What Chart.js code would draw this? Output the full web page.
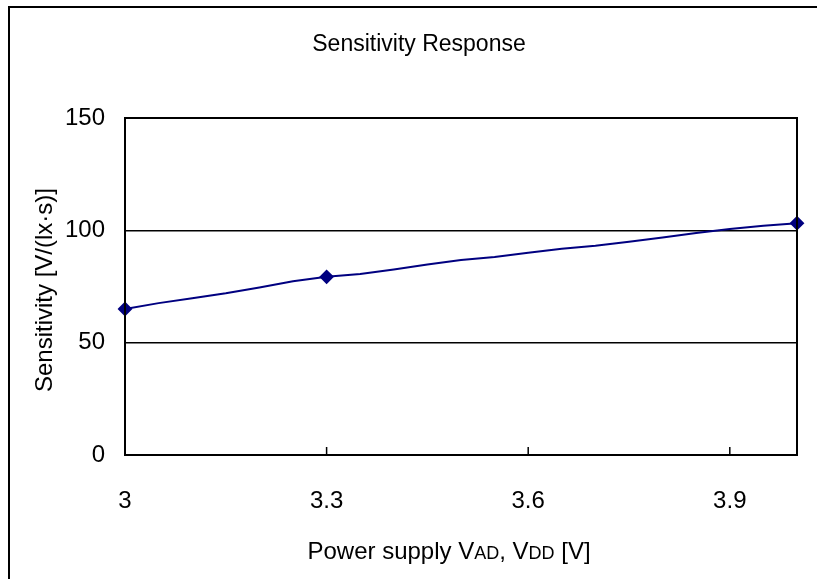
<!DOCTYPE html>
<html>
<head>
<meta charset="utf-8">
<script src="https://cdn.jsdelivr.net/npm/chart.js@4.4.1/dist/chart.umd.min.js"></script>
<style>
  body { margin: 0; background: #fff; }
  #wrap { position: relative; width: 817px; height: 579px; }
</style>
</head>
<body>
<div id="wrap"><canvas id="sensChart"></canvas></div>
<script>
// supply voltage [V] and sensitivity [V/(lx·s)]
const voltage = [3.0, 3.05, 3.1, 3.15, 3.2, 3.25, 3.3, 3.35, 3.4, 3.45, 3.5,
  3.55, 3.6, 3.65, 3.7, 3.75, 3.8, 3.85, 3.9, 3.95, 4.0];
const sensitivity = [65, 67.6, 69.8, 72, 74.6, 77.3, 79.3, 80.6, 82.6, 84.8, 86.8,
  88.1, 90, 91.8, 93.1, 94.9, 96.8, 98.8, 100.6, 102, 103.2];
const markedVoltages = [3.0, 3.3, 4.0];
const xTicks = [3, 3.3, 3.6, 3.9];
const yTicks = [0, 50, 100, 150];

const chartTitle = "Sensitivity Response";
const yTitle = "Sensitivity [V/(lx\u00b7s)]";
// x title parts: [text, small?]
const xTitleParts = [["Power supply V", false], ["AD", true], [", V", false], ["DD", true], [" [V]", false]];

const labelFont = "'Liberation Sans Narrow', 'Arial Narrow', 'Liberation Sans', sans-serif";
const textFont = "'Liberation Sans', Arial, sans-serif";

const framePlugin = {
  id: "frame",
  beforeDraw(chart) {
    const ctx = chart.ctx;
    ctx.save();
    ctx.strokeStyle = "#000";
    ctx.lineWidth = 2;
    ctx.strokeRect(9, 7, 900, 700);
    ctx.restore();
  },
  afterDatasetsDraw(chart) {
    const ctx = chart.ctx;
    const a = chart.chartArea;
    const xs = chart.scales.x;
    ctx.save();
    ctx.strokeStyle = "#000";
    ctx.lineWidth = 2;
    ctx.strokeRect(a.left, a.top, a.right - a.left, a.bottom - a.top);
    ctx.lineWidth = 1.5;
    xTicks.forEach(v => {
      const px = xs.getPixelForValue(v);
      ctx.beginPath();
      ctx.moveTo(px, a.bottom);
      ctx.lineTo(px, a.bottom - 8);
      ctx.stroke();
    });
    ctx.restore();
  },
  afterDraw(chart) {
    const ctx = chart.ctx;
    ctx.save();
    ctx.fillStyle = "#000";
    ctx.textBaseline = "middle";
    ctx.textAlign = "center";
    ctx.font = "23px " + textFont;
    ctx.fillText(chartTitle, 419, 45);

    ctx.save();
    ctx.translate(45, 290);
    ctx.rotate(-Math.PI / 2);
    ctx.font = "24px " + textFont;
    ctx.fillText(yTitle, 0, 0);
    ctx.restore();

    // x title with smaller subscript-like letters
    ctx.textAlign = "left";
    ctx.textBaseline = "alphabetic";
    const fonts = xTitleParts.map(p => (p[1] ? "18px " : "24px ") + textFont);
    let total = 0;
    xTitleParts.forEach((p, i) => { ctx.font = fonts[i]; total += ctx.measureText(p[0]).width; });
    let x = 449 - total / 2;
    xTitleParts.forEach((p, i) => {
      ctx.font = fonts[i];
      ctx.fillText(p[0], x, 559);
      x += ctx.measureText(p[0]).width;
    });
    ctx.restore();
  }
};

new Chart(document.getElementById("sensChart"), {
  type: "line",
  data: {
    datasets: [{
      data: voltage.map((v, i) => ({ x: v, y: sensitivity[i] })),
      borderColor: "#000080",
      backgroundColor: "#000080",
      borderWidth: 2,
      tension: 0,
      pointStyle: "rectRot",
      pointRadius: voltage.map(v => markedVoltages.includes(v) ? 6 : 0),
      pointHoverRadius: 0,
      clip: false
    }]
  },
  options: {
    responsive: true,
    maintainAspectRatio: false,
    animation: false,
    layout: { padding: { top: 118, right: 20, left: 0, bottom: 0 } },
    plugins: { legend: { display: false }, title: { display: false }, tooltip: { enabled: false } },
    scales: {
      x: {
        type: "linear",
        min: 3,
        max: 4,
        afterBuildTicks: s => { s.ticks = xTicks.map(v => ({ value: v })); },
        afterFit: s => { s.height = 124; },
        grid: { display: false, drawTicks: false },
        border: { display: true, color: "#000", width: 2 },
        ticks: {
          padding: 32,
          color: "#000",
          font: { family: labelFont, size: 24 },
          maxRotation: 0,
          callback: v => String(+v.toFixed(1))
        }
      },
      y: {
        min: 0,
        max: 150,
        afterBuildTicks: s => { s.ticks = yTicks.map(v => ({ value: v })); },
        afterFit: s => { s.width = 125; },
        grid: { color: "#000", lineWidth: 1.5, drawTicks: false },
        border: { display: true, color: "#000", width: 2 },
        ticks: {
          padding: 20,
          color: "#000",
          font: { family: labelFont, size: 24 }
        }
      }
    }
  },
  plugins: [framePlugin]
});
</script>
</body>
</html>
